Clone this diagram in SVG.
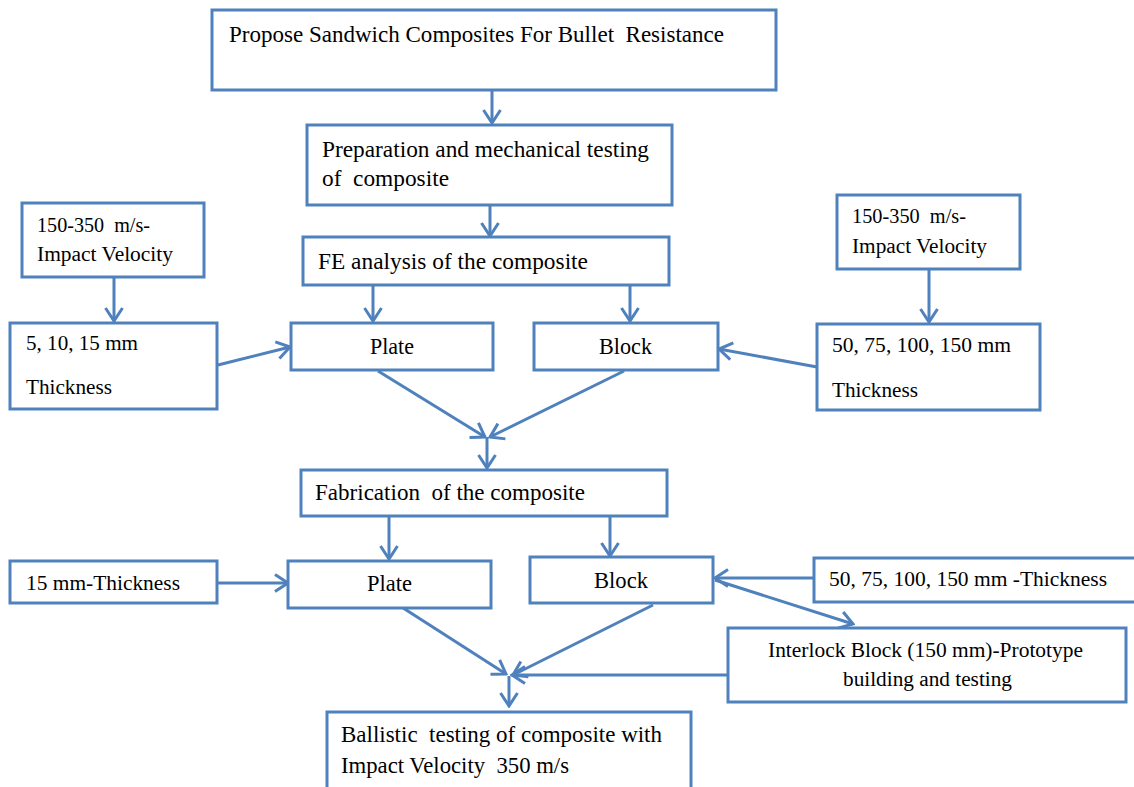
<svg xmlns="http://www.w3.org/2000/svg" width="1134" height="787" viewBox="0 0 1134 787">
  <style>
    .box { fill: #ffffff; stroke: #4F81BD; stroke-width: 3; }
    .lnk { fill: none; stroke: #4F81BD; stroke-width: 3; marker-end: url(#head); }
    text { font-family: "Liberation Serif", "Times New Roman", serif; fill: #000000; white-space: pre; }
    .lg { font-size: 23.6px; }
    .md { font-size: 22.6px; }
    .sm { font-size: 21.6px; }
  </style>
  <defs>
    <marker id="head" viewBox="0 0 16 20" refX="14" refY="10" markerWidth="16" markerHeight="20" markerUnits="userSpaceOnUse" orient="auto">
      <path d="M1,1.5 L14,10 L1,18.5" fill="none" stroke="#4F81BD" stroke-width="3" stroke-linejoin="miter"/>
    </marker>
  </defs>
  <rect width="1134" height="787" fill="#ffffff"/>

  <g id="connectors">
    <line class="lnk" x1="492" y1="90" x2="492" y2="123"/>
    <line class="lnk" x1="490" y1="205" x2="490" y2="236"/>
    <line class="lnk" x1="114" y1="277" x2="114" y2="321"/>
    <line class="lnk" x1="929" y1="269" x2="929" y2="322"/>
    <line class="lnk" x1="373" y1="285" x2="373" y2="321"/>
    <line class="lnk" x1="630" y1="285" x2="630" y2="321"/>
    <line class="lnk" x1="218" y1="365" x2="290" y2="347"/>
    <line class="lnk" x1="817" y1="367" x2="719" y2="349"/>
    <line class="lnk" x1="378" y1="371" x2="485" y2="437"/>
    <line class="lnk" x1="624" y1="371" x2="490" y2="437"/>
    <line class="lnk" x1="487" y1="437" x2="487" y2="468"/>
    <line class="lnk" x1="389" y1="516" x2="389" y2="559"/>
    <line class="lnk" x1="610" y1="516" x2="610" y2="556"/>
    <line class="lnk" x1="217" y1="583" x2="288" y2="583"/>
    <line class="lnk" x1="814" y1="578" x2="715" y2="578"/>
    <line class="lnk" x1="715" y1="580" x2="853" y2="624"/>
    <line class="lnk" x1="400" y1="606" x2="506" y2="674"/>
    <line class="lnk" x1="653" y1="605" x2="513" y2="675"/>
    <line class="lnk" x1="728" y1="675" x2="512" y2="675"/>
    <line class="lnk" x1="509" y1="676" x2="509" y2="706"/>
  </g>

  <g id="propose">
    <rect class="box" x="212" y="10" width="564" height="80"/>
    <text class="lg" x="229" y="42" textLength="495" lengthAdjust="spacingAndGlyphs">Propose Sandwich Composites For Bullet  Resistance</text>
  </g>

  <g id="preparation">
    <rect class="box" x="307" y="125" width="365" height="80"/>
    <text class="lg" x="322" y="157" textLength="327" lengthAdjust="spacingAndGlyphs">Preparation and mechanical testing</text>
    <text class="lg" x="322" y="186" textLength="127" lengthAdjust="spacingAndGlyphs">of  composite</text>
  </g>

  <g id="fe-analysis">
    <rect class="box" x="303" y="237" width="366" height="48"/>
    <text class="lg" x="318" y="269" textLength="270" lengthAdjust="spacingAndGlyphs">FE analysis of the composite</text>
  </g>

  <g id="velocity-left">
    <rect class="box" x="22" y="203" width="182" height="74"/>
    <text class="sm" x="37" y="232" textLength="113" lengthAdjust="spacingAndGlyphs">150-350  m/s-</text>
    <text class="sm" x="37" y="261" textLength="136" lengthAdjust="spacingAndGlyphs">Impact Velocity</text>
  </g>

  <g id="thickness-plate">
    <rect class="box" x="10" y="323" width="207" height="86"/>
    <text class="sm" x="26" y="350" textLength="112" lengthAdjust="spacingAndGlyphs">5, 10, 15 mm</text>
    <text class="sm" x="26" y="394" textLength="86" lengthAdjust="spacingAndGlyphs">Thickness</text>
  </g>

  <g id="plate-fe">
    <rect class="box" x="291" y="323" width="202" height="47"/>
    <text class="md" x="370" y="354" textLength="44" lengthAdjust="spacingAndGlyphs">Plate</text>
  </g>

  <g id="block-fe">
    <rect class="box" x="534" y="323" width="184" height="47"/>
    <text class="md" x="599" y="354" textLength="53" lengthAdjust="spacingAndGlyphs">Block</text>
  </g>

  <g id="velocity-right">
    <rect class="box" x="837" y="195" width="183" height="74"/>
    <text class="sm" x="852" y="223" textLength="114" lengthAdjust="spacingAndGlyphs">150-350  m/s-</text>
    <text class="sm" x="852" y="253" textLength="135" lengthAdjust="spacingAndGlyphs">Impact Velocity</text>
  </g>

  <g id="thickness-block">
    <rect class="box" x="817" y="324" width="223" height="86"/>
    <text class="sm" x="832" y="352" textLength="179" lengthAdjust="spacingAndGlyphs">50, 75, 100, 150 mm</text>
    <text class="sm" x="832" y="397" textLength="86" lengthAdjust="spacingAndGlyphs">Thickness</text>
  </g>

  <g id="fabrication">
    <rect class="box" x="301" y="470" width="366" height="46"/>
    <text class="lg" x="315" y="500" textLength="270" lengthAdjust="spacingAndGlyphs">Fabrication  of the composite</text>
  </g>

  <g id="thickness-15">
    <rect class="box" x="10" y="561" width="207" height="42"/>
    <text class="sm" x="26" y="590" textLength="154" lengthAdjust="spacingAndGlyphs">15 mm-Thickness</text>
  </g>

  <g id="plate-fab">
    <rect class="box" x="288" y="561" width="203" height="47"/>
    <text class="md" x="367" y="591" textLength="45" lengthAdjust="spacingAndGlyphs">Plate</text>
  </g>

  <g id="block-fab">
    <rect class="box" x="530" y="557" width="183" height="46"/>
    <text class="md" x="594" y="588" textLength="54" lengthAdjust="spacingAndGlyphs">Block</text>
  </g>

  <g id="thickness-range">
    <rect class="box" x="814" y="558" width="340" height="44"/>
    <text class="sm" x="829" y="586" textLength="278" lengthAdjust="spacingAndGlyphs">50, 75, 100, 150 mm -Thickness</text>
  </g>

  <g id="interlock">
    <rect class="box" x="728" y="628" width="398" height="74"/>
    <text class="sm" x="768" y="657" textLength="315" lengthAdjust="spacingAndGlyphs">Interlock Block (150 mm)-Prototype</text>
    <text class="sm" x="843" y="686" textLength="169" lengthAdjust="spacingAndGlyphs">building and testing</text>
  </g>

  <g id="ballistic">
    <rect class="box" x="327" y="712" width="364" height="90"/>
    <text class="lg" x="341" y="742" textLength="321" lengthAdjust="spacingAndGlyphs">Ballistic  testing of composite with</text>
    <text class="lg" x="341" y="773" textLength="228" lengthAdjust="spacingAndGlyphs">Impact Velocity  350 m/s</text>
  </g>
</svg>
